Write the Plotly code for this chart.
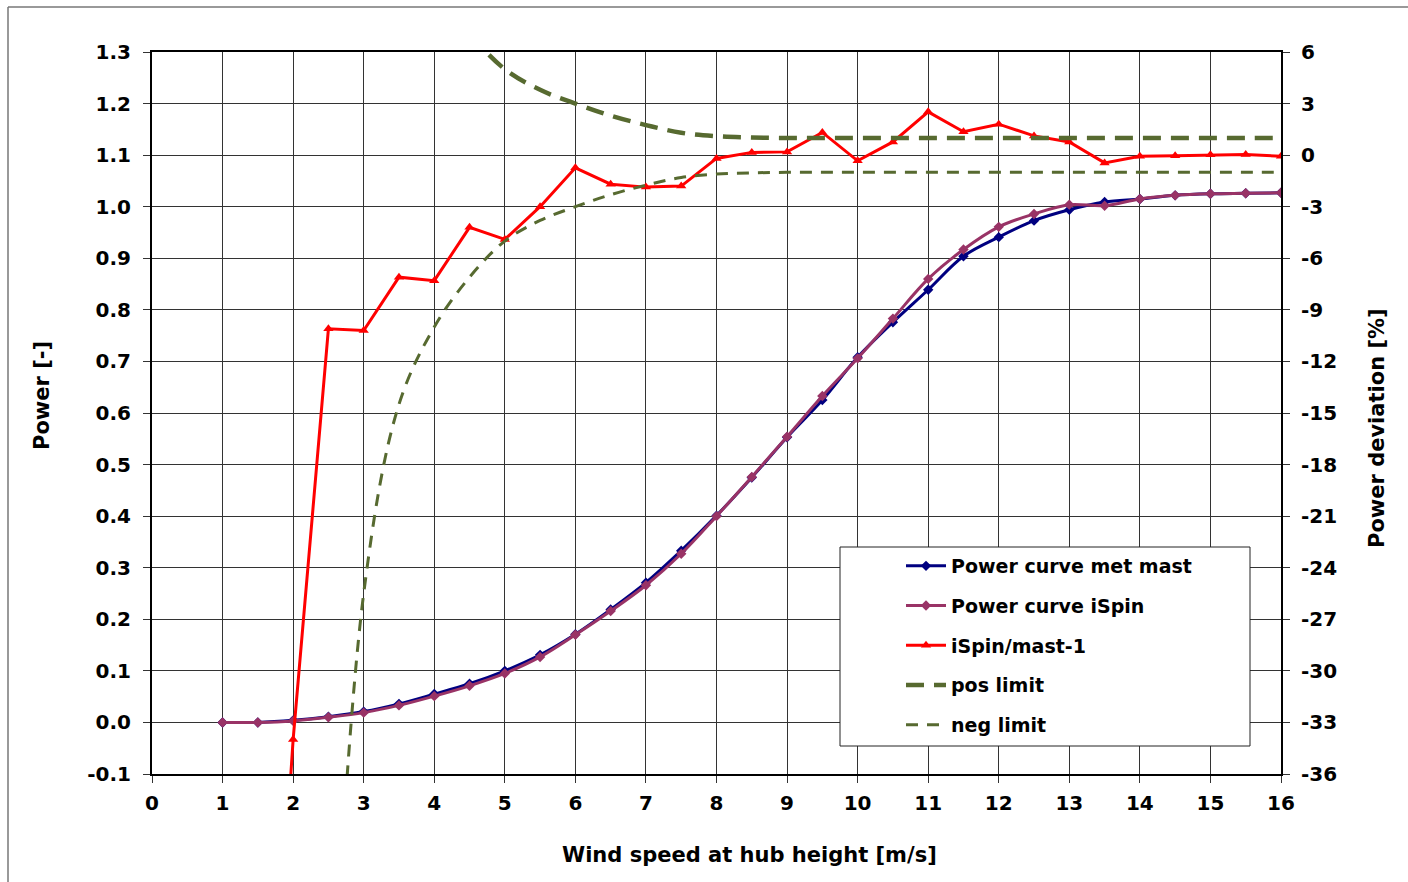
import plotly.graph_objects as go

# ---- data ----
wind = [1, 1.5, 2, 2.5, 3, 3.5, 4, 4.5, 5, 5.5, 6, 6.5, 7, 7.5, 8, 8.5, 9, 9.5,
        10, 10.5, 11, 11.5, 12, 12.5, 13, 13.5, 14, 14.5, 15, 15.5, 16]
power_mast = [0.0, 0.0, 0.004, 0.011, 0.021, 0.036, 0.055, 0.075, 0.100, 0.131,
              0.171, 0.219, 0.271, 0.333, 0.401, 0.475, 0.553, 0.625, 0.708,
              0.776, 0.839, 0.904, 0.941, 0.973, 0.994, 1.009, 1.015, 1.022,
              1.025, 1.026, 1.027]
power_ispin = [0.0, 0.0, 0.003, 0.010, 0.019, 0.033, 0.051, 0.071, 0.095, 0.127,
               0.170, 0.216, 0.266, 0.327, 0.400, 0.476, 0.554, 0.633, 0.706,
               0.783, 0.860, 0.917, 0.961, 0.986, 1.004, 1.002, 1.015, 1.022,
               1.025, 1.026, 1.027]

dev_wind = [1.5, 2, 2.5, 3, 3.5, 4, 4.5, 5, 5.5, 6, 6.5, 7, 7.5, 8, 8.5, 9, 9.5,
            10, 10.5, 11, 11.5, 12, 12.5, 13, 13.5, 14, 14.5, 15, 15.5, 16]
deviation = [-65.0, -34.0, -10.1, -10.2, -7.1, -7.3, -4.2, -4.9, -3.0, -0.74,
             -1.69, -1.86, -1.8, -0.19, 0.16, 0.19, 1.32, -0.33, 0.77, 2.52,
             1.36, 1.8, 1.12, 0.77, -0.45, -0.06, -0.04, 0.02, 0.04, -0.06]

lim_wind = [2.5, 3, 3.5, 4, 4.5, 5, 5.5, 6, 6.5, 7, 7.5, 8, 8.5, 9, 9.5, 10,
            10.5, 11, 11.5, 12, 12.5, 13, 13.5, 14, 14.5, 15, 15.5, 16]
pos_limit = [54.5, 25.5, 14.5, 10.0, 7.1, 5.0, 3.8, 3.0, 2.3, 1.75, 1.3, 1.1,
             1.03, 1.0, 1.0, 1.0, 1.0, 1.0, 1.0, 1.0, 1.0, 1.0, 1.0, 1.0, 1.0,
             1.0, 1.0, 1.0]
neg_limit = [-54.5, -25.5, -14.5, -10.0, -7.1, -5.0, -3.8, -3.0, -2.3, -1.75,
             -1.3, -1.1, -1.03, -1.0, -1.0, -1.0, -1.0, -1.0, -1.0, -1.0, -1.0,
             -1.0, -1.0, -1.0, -1.0, -1.0, -1.0, -1.0]

x_ticks = list(range(0, 17))
y_ticks = [round(-0.1 + 0.1 * i, 1) for i in range(15)]
y2_ticks = list(range(-36, 7, 3))

FONT = "DejaVu Sans, Liberation Sans, Arial, sans-serif"
OLIVE = "#576A30"

fig = go.Figure()
fig.add_trace(go.Scatter(x=wind, y=power_mast, name="Power curve met mast",
                         mode="lines+markers", line=dict(color="#000080", width=3, shape="spline"),
                         marker=dict(symbol="diamond", size=8, color="#000080"),
                         legendgroup="a"))
fig.add_trace(go.Scatter(x=wind, y=power_ispin, name="Power curve iSpin",
                         mode="lines+markers", line=dict(color="#993366", width=3, shape="spline"),
                         marker=dict(symbol="diamond", size=8, color="#993366"),
                         legendgroup="b"))
fig.add_trace(go.Scatter(x=dev_wind, y=deviation, name="iSpin/mast-1", yaxis="y2",
                         mode="lines+markers", line=dict(color="#FF0000", width=3),
                         marker=dict(symbol="triangle-up", size=9, color="#FF0000"),
                         legendgroup="c"))
fig.add_trace(go.Scatter(x=lim_wind, y=pos_limit, name="pos limit", yaxis="y2",
                         mode="lines", line=dict(color=OLIVE, width=4.5, dash="18px,10px", shape="spline"),
                         legendgroup="d"))
fig.add_trace(go.Scatter(x=lim_wind, y=neg_limit, name="neg limit", yaxis="y2",
                         mode="lines", line=dict(color=OLIVE, width=3, dash="12px,9px", shape="spline"),
                         legendgroup="e"))

tickfont = dict(family=FONT, size=20, color="black", weight=700)

def px_x(p):
    return (p - 152) / 1129

def px_y(p):
    return (774 - p) / 722

fig.update_layout(
    width=1408, height=882,
    margin=dict(l=152, r=127, t=52, b=108),
    paper_bgcolor="white", plot_bgcolor="white",
    font=dict(family=FONT, size=20, color="black"),
    showlegend=True,
    legend=dict(x=px_x(901), y=px_y(547), xanchor="left", yanchor="top",
                borderwidth=0, bgcolor="rgba(0,0,0,0)",
                font=dict(family=FONT, size=19, color="black", weight=700),
                tracegroupgap=12, itemwidth=40),
    xaxis=dict(range=[0, 16], tickvals=x_ticks, ticktext=[str(v) for v in x_ticks],
               showgrid=True, gridcolor="#333", gridwidth=1,
               showline=True, linecolor="black", linewidth=2, mirror=True,
               ticks="outside", ticklen=7, tickcolor="#333", tickfont=tickfont,
               ticklabelstandoff=3, zeroline=False),
    yaxis=dict(range=[-0.1, 1.3], tickvals=y_ticks, ticktext=[f"{v:.1f}" for v in y_ticks],
               showgrid=True, gridcolor="#333", gridwidth=1,
               showline=True, linecolor="black", linewidth=2, mirror=True,
               ticks="outside", ticklen=7, tickcolor="#333", tickfont=tickfont,
               ticklabelstandoff=8, zeroline=False),
    yaxis2=dict(range=[-36, 6], tickvals=y2_ticks, ticktext=[str(v) for v in y2_ticks],
                overlaying="y", side="right", showgrid=False, zeroline=False,
                showline=True, linecolor="black", linewidth=2,
                ticks="outside", ticklen=7, tickcolor="#333", tickfont=tickfont,
                ticklabelstandoff=7),
    annotations=[
        dict(text="Wind speed at hub height [m/s]", xref="paper", yref="paper",
             x=px_x(749), y=px_y(855), showarrow=False, xanchor="center", yanchor="middle",
             font=dict(family=FONT, size=21, color="black", weight=700)),
        dict(text="Power [-]", xref="paper", yref="paper", textangle=-90,
             x=px_x(42), y=px_y(396), showarrow=False, xanchor="center", yanchor="middle",
             font=dict(family=FONT, size=21, color="black", weight=700)),
        dict(text="Power deviation [%]", xref="paper", yref="paper", textangle=-90,
             x=px_x(1377), y=px_y(428), showarrow=False, xanchor="center", yanchor="middle",
             font=dict(family=FONT, size=21, color="black", weight=700)),
    ],
    shapes=[
        dict(type="rect", xref="paper", yref="paper", x0=px_x(840), x1=px_x(1250),
             y0=px_y(746), y1=px_y(547), line=dict(color="#222", width=1),
             fillcolor="white", layer="above"),
        dict(type="line", xref="paper", yref="paper", x0=px_x(8), x1=px_x(8),
             y0=px_y(7), y1=px_y(890), line=dict(color="#777", width=1.5)),
        dict(type="line", xref="paper", yref="paper", x0=px_x(8), x1=px_x(1420),
             y0=px_y(7), y1=px_y(7), line=dict(color="#777", width=1.5)),
    ],
)

fig.write_html("out.html")
